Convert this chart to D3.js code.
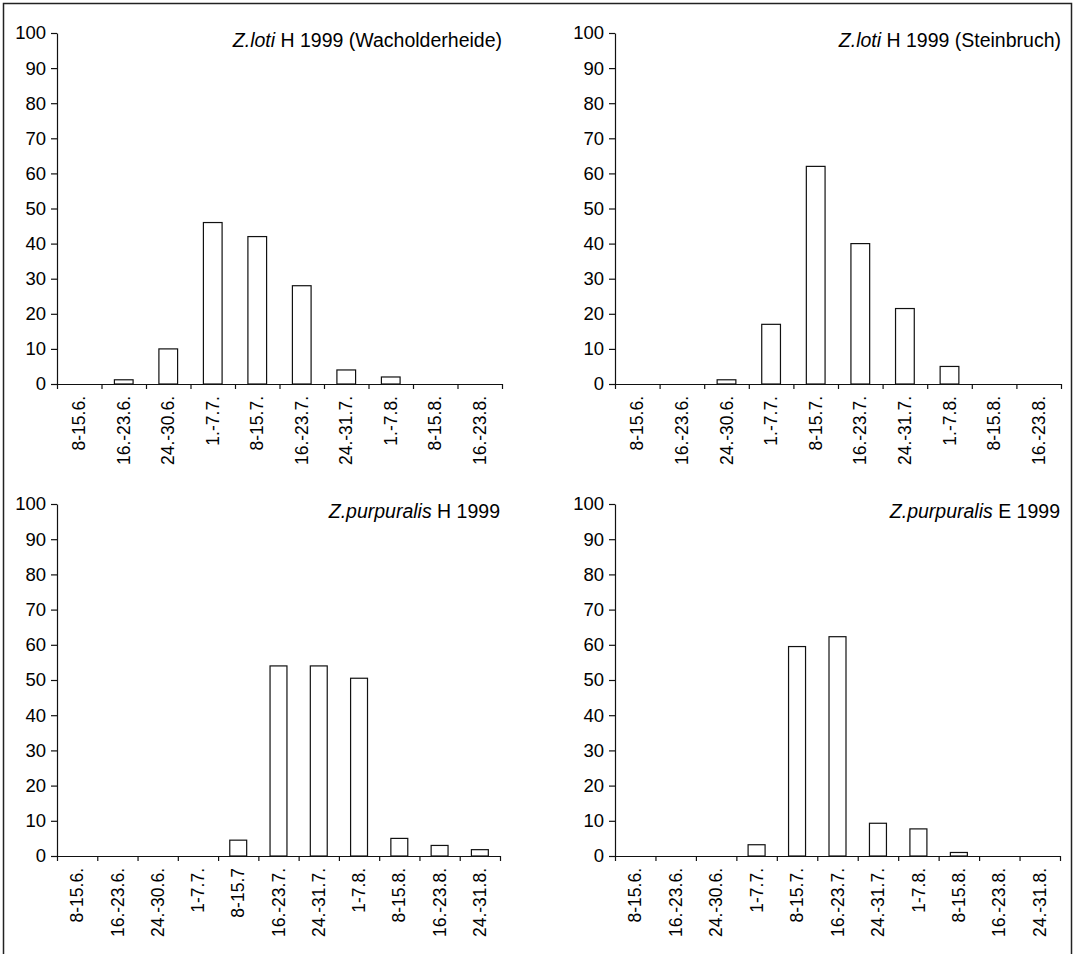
<html>
<meta charset="utf-8" />
<head>
<title>Zygaena Flugzeiten 1999</title>
<style>
body {
  margin: 0;
  background: white;
}

svg text {
  font-family: "Liberation Sans", Arial, sans-serif;
  fill: #000;
}

.axis path, .axis line {
  stroke: #111;
  stroke-width: 1.2px;
}

.bar {
  fill: white;
  stroke: #111;
  stroke-width: 1.2px;
}
</style>
<script src="https://cdn.jsdelivr.net/npm/d3@7"></script>
</head>

<body>
<svg class="chart"></svg>

<script>
var chartWidth = 1076;
var chartHeight = 954;

/********
 * Data *
 ********/

var yTicks = [0, 10, 20, 30, 40, 50, 60, 70, 80, 90, 100];

var lotiLabels = ["8-15.6.", "16.-23.6.", "24.-30.6.", "1.-7.7.", "8-15.7.",
                  "16.-23.7.", "24.-31.7.", "1.-7.8.", "8-15.8.", "16.-23.8."];
var purpHLabels = ["8-15.6.", "16.-23.6.", "24.-30.6.", "1-7.7.", "8-15.7",
                   "16.-23.7.", "24.-31.7.", "1-7.8.", "8-15.8.", "16.-23.8.", "24.-31.8."];
var purpELabels = ["8-15.6.", "16.-23.6.", "24.-30.6.", "1-7.7.", "8-15.7.",
                   "16.-23.7.", "24.-31.7.", "1-7.8.", "8-15.8.", "16.-23.8.", "24.-31.8."];

var lotiWacholder = [0, 1.2, 10, 46, 42, 28, 4, 2, 0, 0];
var lotiSteinbruch = [0, 0, 1.2, 17, 62, 40, 21.5, 5, 0, 0];
var purpuralisH = [0, 0, 0, 0, 4.5, 54, 54, 50.5, 5, 3, 1.8];
var purpuralisE = [0, 0, 0, 3.2, 59.5, 62.3, 9.3, 7.7, 1, 0, 0];

// title: italic species name + rest
var titles = [
  ["Z.loti", " H 1999 (Wacholderheide)"],
  ["Z.loti", " H 1999 (Steinbruch)"],
  ["Z.purpuralis", " H 1999"],
  ["Z.purpuralis", " E 1999"]
];

/**************
 * Make Chart *
 **************/

var canvas = d3.select(".chart")
    .attr("width", chartWidth)
    .attr("height", chartHeight);

// outer frame (bottom edge runs off the page)
canvas.append("rect")
    .attr("x", 3.5)
    .attr("y", 3.5)
    .attr("width", 1068)
    .attr("height", 990)
    .attr("fill", "none")
    .attr("stroke", "#222")
    .attr("stroke-width", 1.5);

function makeChart(values, labels, title, left, right, top, bottom){

  var n = values.length;

  // band for bars, half outer padding keeps bars centred in each step
  var x = d3.scaleBand()
      .domain(labels)
      .range([left, right])
      .paddingInner(0.58)
      .paddingOuter(0.29);

  // category boundaries for the tick marks
  var xb = d3.scaleLinear()
      .domain([0, n])
      .range([left, right]);

  var y = d3.scaleLinear()
      .domain([0, 100])
      .range([bottom, top]);

  var g = canvas.append("g");

  g.selectAll("rect.bar")
      .data(values)
    .enter().append("rect")
      .attr("class", "bar")
      .attr("x", function(d, i){ return x(labels[i]); })
      .attr("width", x.bandwidth())
      .attr("y", function(d){ return y(d); })
      .attr("height", function(d){ return bottom - y(d); });

  var yAxis = d3.axisLeft(y)
      .tickValues(yTicks)
      .tickSize(6)
      .tickSizeOuter(0)
      .tickPadding(5);

  var yg = g.append("g")
      .attr("class", "axis")
      .attr("transform", "translate(" + left + ",0)")
      .call(yAxis);
  yg.attr("font-size", null).attr("font-family", null);
  yg.selectAll("text").style("font-size", "18.5px");

  // tick marks between categories
  g.append("g")
      .attr("class", "axis")
      .attr("transform", "translate(0," + bottom + ")")
      .call(d3.axisBottom(xb).tickValues(d3.range(n + 1)).tickSize(5).tickSizeOuter(0).tickFormat(""));

  // rotated category labels
  var xAxis = d3.axisBottom(x).tickSize(0).tickPadding(0);
  var xg = g.append("g")
      .attr("class", "axis")
      .attr("transform", "translate(0," + bottom + ")")
      .call(xAxis);
  xg.attr("font-size", null).attr("font-family", null);
  xg.select(".domain").remove();
  xg.selectAll("text")
      .attr("transform", "rotate(-90)")
      .attr("x", -12)
      .attr("y", 0)
      .attr("dy", "0.35em")
      .style("text-anchor", "end")
      .style("font-size", "17.5px");

  var t = g.append("text")
      .attr("x", right)
      .attr("y", top + 14)
      .style("text-anchor", "end")
      .style("font-size", "19.5px");
  t.append("tspan").style("font-style", "italic").text(title[0]);
  t.append("tspan").text(title[1]);
}

makeChart(lotiWacholder, lotiLabels, titles[0], 57, 502, 33, 384);
makeChart(lotiSteinbruch, lotiLabels, titles[1], 615, 1061, 33, 384);
makeChart(purpuralisH, purpHLabels, titles[2], 57, 500, 504, 856);
makeChart(purpuralisE, purpELabels, titles[3], 615, 1060, 504, 856);

</script>
</body>
</html>
